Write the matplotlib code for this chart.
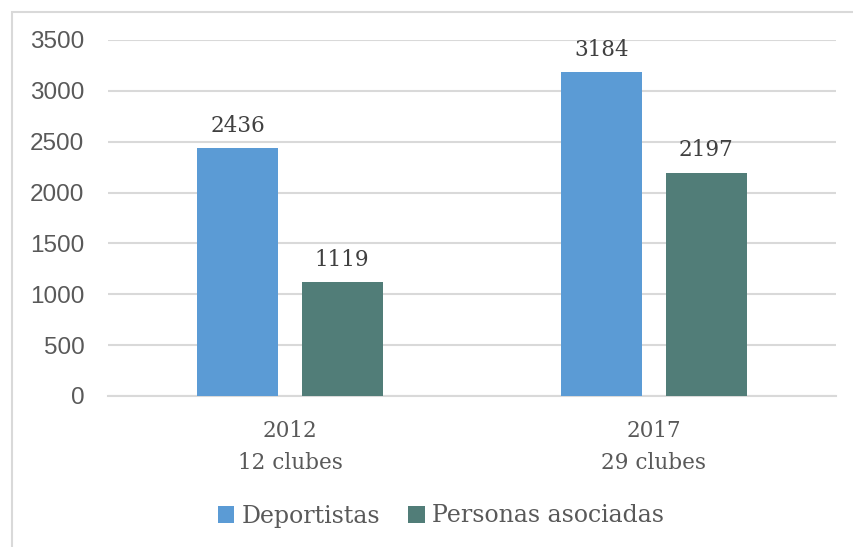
import numpy as np
import matplotlib.pyplot as plt
from matplotlib.patches import Rectangle

# datos por año
anios = ["2012\n12 clubes", "2017\n29 clubes"]
deportistas = [2436, 3184]
asociadas = [1119, 2197]
series = ["Deportistas", "Personas asociadas"]
colores = ["#5B9BD5", "#517D78"]

fig = plt.figure(figsize=(8.54, 5.47), dpi=100)
ax = fig.add_axes([108 / 854, 1 - 396 / 547, 728 / 854, 356 / 547])

x = np.arange(len(anios))
ancho = 0.2225
desp = 0.143
b1 = ax.bar(x - desp, deportistas, ancho, color=colores[0], label=series[0], zorder=3)
b2 = ax.bar(x + desp, asociadas, ancho, color=colores[1], label=series[1], zorder=3)

serif = ["DejaVu Serif"]
for barras in (b1, b2):
    for r in barras:
        ax.annotate(f"{int(r.get_height())}",
                    (r.get_x() + r.get_width() / 2, r.get_height()),
                    xytext=(0, 8), textcoords="offset points",
                    ha="center", va="bottom", fontsize=15.5,
                    family=serif, color="#404040")

ax.set_xlim(-0.5, 1.5)
ax.set_ylim(0, 3500)
ax.set_yticks(np.arange(0, 3501, 500))
ax.yaxis.grid(True, color="#D9D9D9", linewidth=1.5, zorder=0)
ax.set_axisbelow(True)
for s in ["top", "right", "left"]:
    ax.spines[s].set_visible(False)
ax.spines["bottom"].set_color("#D9D9D9")
ax.spines["bottom"].set_linewidth(1.5)

ax.tick_params(axis="y", length=0, pad=17, labelsize=17.5, labelcolor="#595959")
ax.tick_params(axis="x", length=0, pad=17, labelsize=15.5, labelcolor="#595959")
for t in ax.get_yticklabels():
    t.set_family("Liberation Sans")
ax.set_xticks(x)
ax.set_xticklabels(anios, family=serif, linespacing=1.6)

leg = fig.legend(loc="center", bbox_to_anchor=(441 / 854, 1 - 516 / 547), ncol=2,
                 frameon=False, handlelength=0.7, handleheight=0.7,
                 handletextpad=0.3, columnspacing=1.2,
                 prop={"family": serif, "size": 17})
for t in leg.get_texts():
    t.set_color("#595959")

# marco exterior
fig.patches.append(Rectangle((12 / 854, -0.1), 1.2, 1 - 12 / 547 + 0.1,
                             transform=fig.transFigure, fill=False,
                             edgecolor="#D9D9D9", linewidth=1.5))

fig.savefig("out.png", dpi=100)
